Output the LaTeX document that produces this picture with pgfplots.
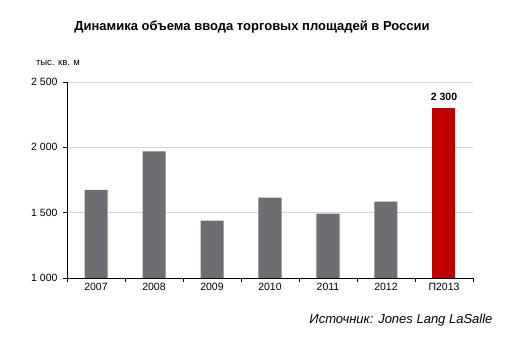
\documentclass[border=0pt]{standalone}
\usepackage{fontspec}
\setmainfont{Liberation Sans}
\usepackage{pgfplots}
\pgfplotsset{compat=1.18}
\definecolor{barg}{HTML}{6D6E71}
\definecolor{barr}{HTML}{C00000}
\definecolor{gridc}{HTML}{D4D4D4}
\begin{document}
\begin{tikzpicture}[x=1pt,y=1pt]
\path[use as bounding box] (0,0) rectangle (529,350);
\begin{axis}[
  at={(67pt,72pt)}, anchor=south west,
  scale only axis, width=406pt, height=196pt,
  xmin=-0.5, xmax=6.5, ymin=1000, ymax=2500,
  axis x line*=bottom, axis y line*=left,
  axis line style={black, line width=0.8pt},
  xtick={-0.5,0.5,...,6.5},
  xticklabels={},
  extra x ticks={0,...,6},
  extra x tick labels={2007,2008,2009,2010,2011,2012,П2013},
  extra x tick style={major tick length=0pt, xticklabel style={yshift=-2pt}},
  ytick={1000,1500,2000,2500},
  yticklabels={1 000,1 500,2 000,2 500},
  yticklabel style={xshift=-2pt},
  tick align=outside, major tick length=4pt,
  tick style={black, line width=0.6pt},
  ymajorgrids, grid style={gridc, line width=0.8pt},
  ticklabel style={font=\fontsize{10.5}{12}\selectfont},
  ybar, bar width=23pt, bar shift=0pt,
]
\addplot[fill=barg, draw=none] coordinates {(0,1675) (1,1970) (2,1440) (3,1615) (4,1492) (5,1585)};
\addplot[fill=barr, draw=none] coordinates {(6,2300)};
\node[above, font=\bfseries\fontsize{10.5}{12}\selectfont] at (axis cs:6,2300) [yshift=4pt] {2 300};
\end{axis}
\node[font=\bfseries\fontsize{13}{15}\selectfont] at (252,323) {Динамика объема ввода торговых площадей в России};
\node[font=\fontsize{9.5}{11}\selectfont] at (58,287) {тыс. кв. м};
\node[anchor=east, font=\itshape\fontsize{13}{15}\selectfont] at (496,30) {Источник: Jones Lang LaSalle};
\end{tikzpicture}
\end{document}
